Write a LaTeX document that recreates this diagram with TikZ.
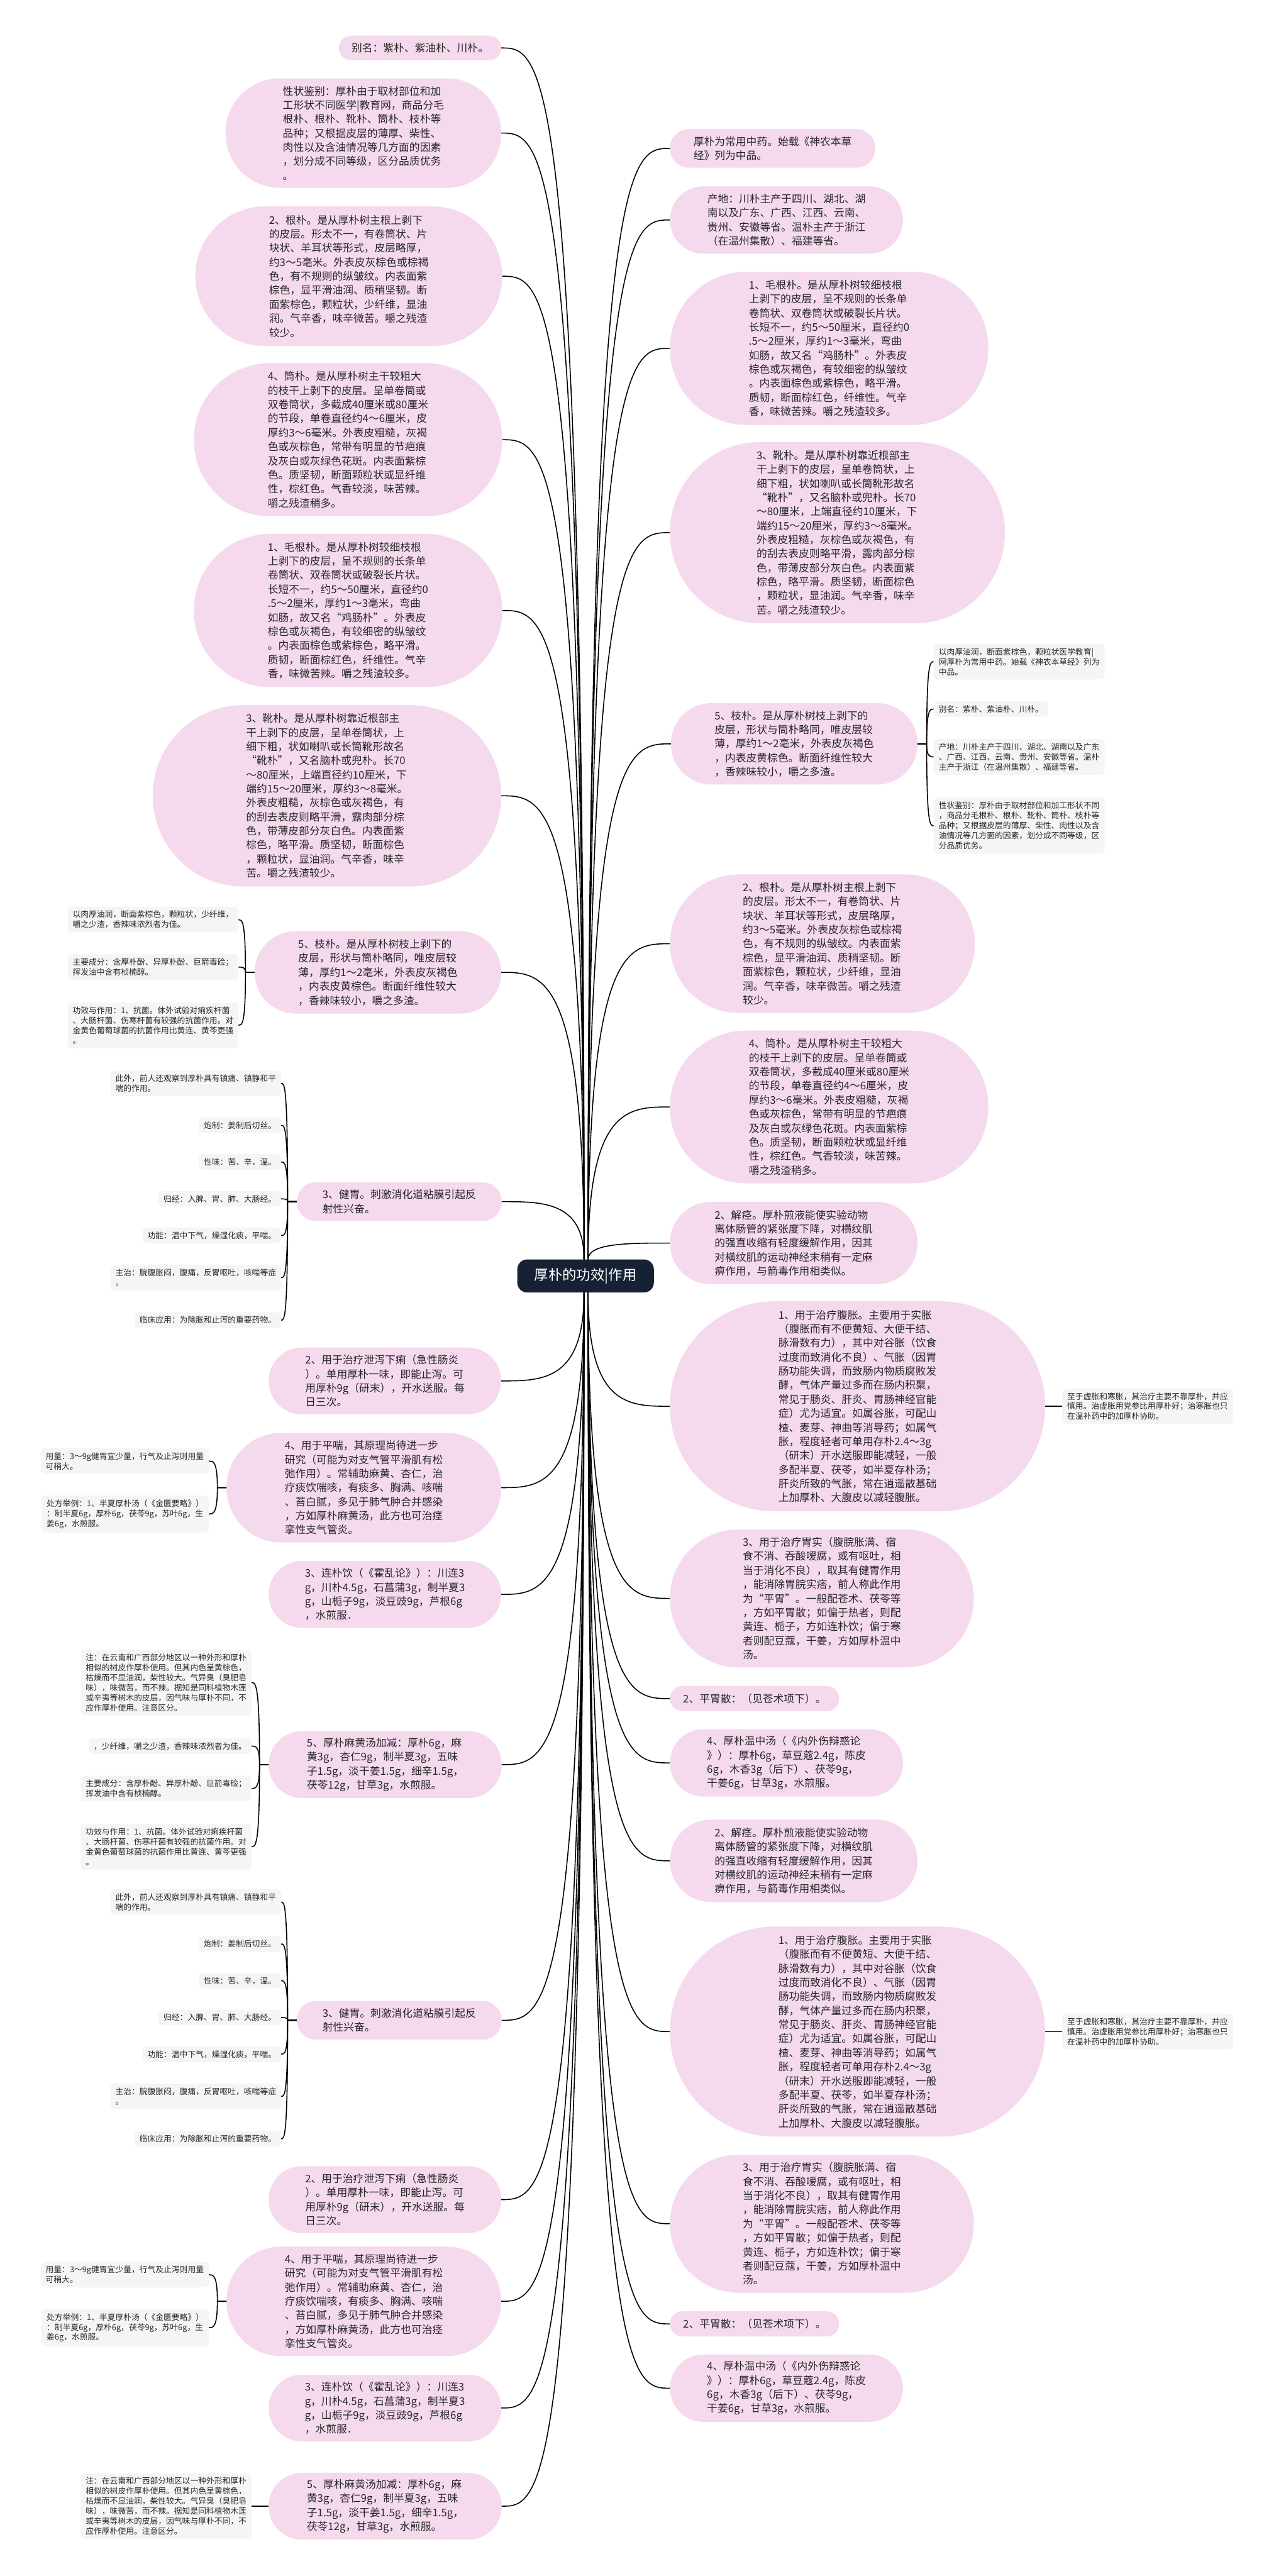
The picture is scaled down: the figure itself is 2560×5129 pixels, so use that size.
\documentclass[tikz,border=0pt]{standalone}
\usepackage{fontspec}
\setmainfont{Noto Sans CJK SC}
\usetikzlibrary{calc}
\definecolor{pinkfill}{RGB}{245,218,238}
\definecolor{leaffill}{RGB}{245,245,245}
\definecolor{txtc}{RGB}{38,38,38}
\definecolor{navy}{RGB}{22,34,51}
\newcommand\mainfs{\fontsize{21}{28}\selectfont}
\newcommand\leaffs{\fontsize{16}{20}\selectfont}
\newcommand\ctrfs{\fontsize{28}{32}\selectfont}
\tikzset{
  mainnode/.style 2 args={fill=pinkfill, minimum width=#1, minimum height=#2, rounded corners=#2/2-0.5, inner sep=0pt, align=left, font=\mainfs, text=txtc},
  leafnode/.style={fill=leaffill, rounded corners=8, inner xsep=10, inner ysep=8, align=left, font=\leaffs, text=txtc},
  conn/.style={draw=black, line width=2},
}
\newcommand\myLconn[2]{\draw[conn] let \p1=(#1), \p2=(#2.east) in (\p1) .. controls (\x1,\y2) and ($(\x1,\y2)!0.5!(\p2)$) .. (\p2);}
\newcommand\myRconn[2]{\draw[conn] let \p1=(#1), \p2=(#2.west) in (\p1) .. controls (\x1,\y2) and ($(\x1,\y2)!0.5!(\p2)$) .. (\p2);}
\newcommand\myLbr[2]{\draw[conn] let \p1=($(#1.west)+(-18,0)$), \p2=(#2.east) in (#1.west) -- (\p1) .. controls (\x1,\y2) and ($(\x1,\y2)!0.5!(\p2)$) .. (\p2);}
\newcommand\myRbr[2]{\draw[conn] let \p1=($(#1.east)+(18,0)$), \p2=(#2.west) in (#1.east) -- (\p1) .. controls (\x1,\y2) and ($(\x1,\y2)!0.5!(\p2)$) .. (\p2);}
% repeated texts
\newcommand\TxJW{3、健胃。刺激消化道粘膜引起反\\射性兴奋。}
\newcommand\TxJa{此外，前人还观察到厚朴具有镇痛、镇静和平\\喘的作用。}
\newcommand\TxJb{炮制：姜制后切丝。}
\newcommand\TxJc{性味：苦、辛，温。}
\newcommand\TxJd{归经：入脾、胃、肺、大肠经。}
\newcommand\TxJe{功能：温中下气，燥湿化痰，平喘。}
\newcommand\TxJf{主治：脘腹胀闷，腹痛，反胃呕吐，咳喘等症\\。}
\newcommand\TxJg{临床应用：为除胀和止泻的重要药物。}
\newcommand\TxXX{2、用于治疗泄泻下痢（急性肠炎\\）。单用厚朴一味，即能止泻。可\\用厚朴9g（研末），开水送服。每\\日三次。}
\newcommand\TxPC{4、用于平喘，其原理尚待进一步\\研究（可能为对支气管平滑肌有松\\弛作用）。常辅助麻黄、杏仁，治\\疗痰饮喘咳，有痰多、胸满、咳喘\\、苔白腻，多见于肺气肿合并感染\\，方如厚朴麻黄汤，此方也可治痉\\挛性支气管炎。}
\newcommand\TxPa{用量：3～9g健胃宜少量，行气及止泻则用量\\可稍大。}
\newcommand\TxPb{处方举例：1、半夏厚朴汤（《金匮要略》）\\：制半夏6g，厚朴6g，茯苓9g，苏叶6g，生\\姜6g，水煎服。}
\newcommand\TxLP{3、连朴饮（《霍乱论》）：川连3\\g，川朴4.5g，石菖蒲3g，制半夏3\\g，山栀子9g，淡豆豉9g，芦根6g\\，水煎服．}
\newcommand\TxMH{5、厚朴麻黄汤加减：厚朴6g，麻\\黄3g，杏仁9g，制半夏3g，五味\\子1.5g，淡干姜1.5g，细辛1.5g，\\茯苓12g，甘草3g，水煎服。}
\newcommand\TxMa{注：在云南和广西部分地区以一种外形和厚朴\\相似的树皮作厚朴使用。但其内色呈黄棕色，\\枯燥而不显油润，柴性较大。气异臭（臭肥皂\\味），味微苦，而不辣。据知是同科植物木莲\\或辛夷等树木的皮层，因气味与厚朴不同，不\\应作厚朴使用。注意区分。}
\newcommand\TxJJ{2、解痉。厚朴煎液能使实验动物\\离体肠管的紧张度下降，对横纹肌\\的强直收缩有轻度缓解作用，因其\\对横纹肌的运动神经末稍有一定麻\\痹作用，与箭毒作用相类似。}
\newcommand\TxFZ{1、用于治疗腹胀。主要用于实胀\\（腹胀而有不便黄短、大便干结、\\脉滑数有力），其中对谷胀（饮食\\过度而致消化不良）、气胀（因胃\\肠功能失调，而致肠内物质腐败发\\酵，气体产量过多而在肠内积聚，\\常见于肠炎、肝炎、胃肠神经官能\\症）尤为适宜。如属谷胀，可配山\\楂、麦芽、神曲等消导药；如属气\\胀，程度轻者可单用存朴2.4～3g\\（研末）开水送服即能减轻，一般\\多配半夏、茯苓，如半夏存朴汤；\\肝炎所致的气胀，常在逍遥散基础\\上加厚朴、大腹皮以减轻腹胀。}
\newcommand\TxFa{至于虚胀和寒胀，其治疗主要不靠厚朴，并应\\慎用。治虚胀用党参比用厚朴好；治寒胀也只\\在温补药中酌加厚朴协助。}
\newcommand\TxWS{3、用于治疗胃实（腹脘胀满、宿\\食不消、吞酸嗳腐，或有呕吐，相\\当于消化不良），取其有健胃作用\\，能消除胃脘实痞，前人称此作用\\为“平胃”。一般配苍术、茯苓等\\，方如平胃散；如偏于热者，则配\\黄连、栀子，方如连朴饮；偏于寒\\者则配豆蔻，干姜，方如厚朴温中\\汤。}
\newcommand\TxPW{2、平胃散：（见苍术项下）。}
\newcommand\TxWZ{4、厚朴温中汤（《内外伤辩惑论\\》）：厚朴6g，草豆蔻2.4g，陈皮\\6g，木香3g（后下）、茯苓9g，\\干姜6g，甘草3g，水煎服。}
\newcommand\TxMGP{1、毛根朴。是从厚朴树较细枝根\\上剥下的皮层，呈不规则的长条单\\卷筒状、双卷筒状或破裂长片状。\\长短不一，约5～50厘米，直径约0\\.5～2厘米，厚约1～3毫米，弯曲\\如肠，故又名“鸡肠朴”。外表皮\\棕色或灰褐色，有较细密的纵皱纹\\。内表面棕色或紫棕色，略平滑。\\质韧，断面棕红色，纤维性。气辛\\香，味微苦辣。嚼之残渣较多。}
\newcommand\TxXP{3、靴朴。是从厚朴树靠近根部主\\干上剥下的皮层，呈单卷筒状，上\\细下粗，状如喇叭或长筒靴形故名\\“靴朴”，又名脑朴或兜朴。长70\\～80厘米，上端直径约10厘米，下\\端约15～20厘米，厚约3～8毫米。\\外表皮粗糙，灰棕色或灰褐色，有\\的刮去表皮则略平滑，露肉部分棕\\色，带薄皮部分灰白色。内表面紫\\棕色，略平滑。质坚韧，断面棕色\\，颗粒状，显油润。气辛香，味辛\\苦。嚼之残渣较少。}
\newcommand\TxGP{2、根朴。是从厚朴树主根上剥下\\的皮层。形太不一，有卷筒状、片\\块状、羊耳状等形式，皮层略厚，\\约3～5毫米。外表皮灰棕色或棕褐\\色，有不规则的纵皱纹。内表面紫\\棕色，显平滑油润、质稍坚韧。断\\面紫棕色，颗粒状，少纤维，显油\\润。气辛香，味辛微苦。嚼之残渣\\较少。}
\newcommand\TxTP{4、筒朴。是从厚朴树主干较粗大\\的枝干上剥下的皮层。呈单卷筒或\\双卷筒状，多截成40厘米或80厘米\\的节段，单卷直径约4～6厘米，皮\\厚约3～6毫米。外表皮粗糙，灰褐\\色或灰棕色，常带有明显的节疤痕\\及灰白或灰绿色花斑。内表面紫棕\\色。质坚韧，断面颗粒状或显纤维\\性，棕红色。气香较淡，味苦辣。\\嚼之残渣稍多。}
\newcommand\TxZP{5、枝朴。是从厚朴树枝上剥下的\\皮层，形状与筒朴略同，唯皮层较\\薄，厚约1～2毫米，外表皮灰褐色\\，内表皮黄棕色。断面纤维性较大\\，香辣味较小，嚼之多渣。}
\begin{document}
\begin{tikzpicture}[x=1pt,y=1pt]
\fill[white] (0,0) rectangle (2560,-5129);
\useasboundingbox (0,0) rectangle (2560,-5129);
% ---------------- center
\node[fill=navy, text=white, rounded corners=20, minimum width=272, minimum height=66, inner sep=0pt, font=\ctrfs] (ctr) at (1166,-2540.5) {厚朴的功效|作用};
\coordinate (SLt) at ($(ctr.north)+(-3,0)$);
\coordinate (SRt) at ($(ctr.north)+(5,0)$);
\coordinate (SLb) at ($(ctr.south)+(-3,0)$);
\coordinate (SRb) at ($(ctr.south)+(5,0)$);
% ---------------- left main nodes
\node[mainnode={323}{49}] (Lbm) at (836.5,-95.5) {别名：紫朴、紫油朴、川朴。};
\node[mainnode={549}{218}] (Lxz) at (723.5,-265) {性状鉴别：厚朴由于取材部位和加\\工形状不同医学|教育网，商品分毛\\根朴、根朴、靴朴、筒朴、枝朴等\\品种；又根据皮层的薄厚、柴性、\\肉性以及含油情况等几方面的因素\\，划分成不同等级，区分品质优务\\。};
\node[mainnode={611}{278}] (Lgp) at (694.5,-550) {\TxGP};
\node[mainnode={614}{305}] (Ltp) at (693,-875.5) {\TxTP};
\node[mainnode={614}{305}] (Lmg) at (693,-1215.5) {\TxMGP};
\node[mainnode={694}{361}] (Lxp) at (651,-1584.5) {\TxXP};
\node[mainnode={491}{164}] (Lzp) at (752.5,-1936) {\TxZP};
\node[leafnode, anchor=east] (Lz1) at (475,-1831) {以肉厚油润，断面紫棕色，颗粒状，少纤维，\\嚼之少渣，香辣味浓烈者为佳。};
\node[leafnode, anchor=east] (Lz2) at (475,-1925.5) {主要成分：含厚朴酚、异厚朴酚、巨箭毒硷；\\挥发油中含有桢楠醇。};
\node[leafnode, anchor=east] (Lz3) at (475,-2041.5) {功效与作用：1、抗菌。体外试验对痢疾杆菌\\、大肠杆菌、伤寒杆菌有较强的抗菌作用。对\\金黄色葡萄球菌的抗菌作用比黄连、黄芩更强\\。};
\node[mainnode={408}{77}] (Ljw) at (795,-2392.5) {\TxJW};
\node[leafnode, anchor=east] (Lj1) at (560,-2157) {\TxJa};
\node[leafnode, anchor=east] (Lj2) at (560,-2240.5) {\TxJb};
\node[leafnode, anchor=east] (Lj3) at (560,-2313.5) {\TxJc};
\node[leafnode, anchor=east] (Lj4) at (560,-2387) {\TxJd};
\node[leafnode, anchor=east] (Lj5) at (560,-2460) {\TxJe};
\node[leafnode, anchor=east] (Lj6) at (560,-2544) {\TxJf};
\node[leafnode, anchor=east] (Lj7) at (560,-2628.5) {\TxJg};
\node[mainnode={463}{133}] (Lxx) at (766.5,-2749.5) {\TxXX};
\node[mainnode={547}{218}] (Lpc) at (724.5,-2962) {\TxPC};
\node[leafnode, anchor=east] (Lp1) at (416,-2909) {\TxPa};
\node[leafnode, anchor=east] (Lp2) at (416,-3014.5) {\TxPb};
\node[mainnode={463}{133}] (Llp) at (766.5,-3174.5) {\TxLP};
\node[mainnode={464}{133}] (Lmh) at (767,-3513.5) {\TxMH};
\node[leafnode, anchor=east] (Lm1) at (501,-3350) {\TxMa};
\node[leafnode, anchor=east] (Lm2) at (501,-3476.5) {，少纤维，嚼之少渣，香辣味浓烈者为佳。};
\node[leafnode, anchor=east] (Lm3) at (501,-3561) {主要成分：含厚朴酚、异厚朴酚、巨箭毒硷；\\挥发油中含有桢楠醇。};
\node[leafnode, anchor=east] (Lm4) at (501,-3677) {功效与作用：1、抗菌。体外试验对痢疾杆菌\\、大肠杆菌、伤寒杆菌有较强的抗菌作用。对\\金黄色葡萄球菌的抗菌作用比黄连、黄芩更强\\。};
% lower left copy
\node[mainnode={408}{77}] (LjwB) at (795,-4022.5) {\TxJW};
\node[leafnode, anchor=east] (LjB1) at (560,-3787) {\TxJa};
\node[leafnode, anchor=east] (LjB2) at (560,-3870.5) {\TxJb};
\node[leafnode, anchor=east] (LjB3) at (560,-3943.5) {\TxJc};
\node[leafnode, anchor=east] (LjB4) at (560,-4017) {\TxJd};
\node[leafnode, anchor=east] (LjB5) at (560,-4090) {\TxJe};
\node[leafnode, anchor=east] (LjB6) at (560,-4174) {\TxJf};
\node[leafnode, anchor=east] (LjB7) at (560,-4258.5) {\TxJg};
\node[mainnode={463}{133}] (LxxB) at (766.5,-4379.5) {\TxXX};
\node[mainnode={547}{218}] (LpcB) at (724.5,-4582) {\TxPC};
\node[leafnode, anchor=east] (LpB1) at (416,-4529) {\TxPa};
\node[leafnode, anchor=east] (LpB2) at (416,-4634.5) {\TxPb};
\node[mainnode={463}{133}] (LlpB) at (766.5,-4794.5) {\TxLP};
\node[mainnode={464}{133}] (LmhB) at (767,-4990) {\TxMH};
\node[leafnode, anchor=east] (LmB1) at (501,-4990) {\TxMa};
% ---------------- right main nodes
\node[mainnode={409}{77}] (Rhp) at (1538.5,-295.5) {厚朴为常用中药。始载《神农本草\\经》列为中品。};
\node[mainnode={464}{134}] (Rcd) at (1566,-438) {产地：川朴主产于四川、湖北、湖\\南以及广东、广西、江西、云南、\\贵州、安徽等省。温朴主产于浙江\\（在温州集散）、福建等省。};
\node[mainnode={634}{305}] (Rmg) at (1651,-693.5) {\TxMGP};
\node[mainnode={667}{361}] (Rxp) at (1667.5,-1060.5) {\TxXP};
\node[mainnode={491}{162}] (Rzp) at (1581.5,-1481) {\TxZP};
\node[leafnode, anchor=west] (Rz1) at (1859,-1317.5) {以肉厚油润，断面紫棕色，颗粒状医学教育|\\网厚朴为常用中药。始载《神农本草经》列为\\中品。};
\node[leafnode, anchor=west] (Rz2) at (1859,-1411.5) {别名：紫朴、紫油朴、川朴。};
\node[leafnode, anchor=west] (Rz3) at (1859,-1507) {产地：川朴主产于四川、湖北、湖南以及广东\\、广西、江西、云南、贵州、安徽等省。温朴\\主产于浙江（在温州集散）、福建等省。};
\node[leafnode, anchor=west] (Rz4) at (1859,-1644) {性状鉴别：厚朴由于取材部位和加工形状不同\\，商品分毛根朴、根朴、靴朴、筒朴、枝朴等\\品种；又根据皮层的薄厚、柴性、肉性以及含\\油情况等几方面的因素，划分成不同等级，区\\分品质优务。};
\node[mainnode={607}{276}] (Rgp) at (1637.5,-1879) {\TxGP};
\node[mainnode={634}{304}] (Rtp) at (1651,-2204) {\TxTP};
\node[mainnode={493}{164}] (Rjj) at (1580.5,-2475) {\TxJJ};
\node[mainnode={747}{418}] (Rfz) at (1707.5,-2800) {\TxFZ};
\node[leafnode, anchor=west] (Rf1) at (2115,-2800) {\TxFa};
\node[mainnode={605}{275}] (Rws) at (1636.5,-3182.5) {\TxWS};
\node[mainnode={337}{50}] (Rpw) at (1502.5,-3382) {\TxPW};
\node[mainnode={464}{134}] (Rwz) at (1566,-3510) {\TxWZ};
% lower right copy
\node[mainnode={493}{164}] (RjjB) at (1580.5,-3705) {\TxJJ};
\node[mainnode={747}{418}] (RfzB) at (1707.5,-4045) {\TxFZ};
\node[leafnode, anchor=west] (RfB1) at (2115,-4045) {\TxFa};
\node[mainnode={605}{275}] (RwsB) at (1636.5,-4427.5) {\TxWS};
\node[mainnode={337}{50}] (RpwB) at (1502.5,-4627) {\TxPW};
\node[mainnode={464}{134}] (RwzB) at (1566,-4755) {\TxWZ};
% ---------------- connectors
\foreach \q in {Lbm,Lxz,Lgp,Ltp,Lmg,Lxp,Lzp,Ljw}{\myLconn{SLt}{\q}}
\foreach \q in {Lxx,Lpc,Llp,Lmh,LjwB,LxxB,LpcB,LlpB,LmhB}{\myLconn{SLb}{\q}}
\foreach \q in {Rhp,Rcd,Rmg,Rxp,Rzp,Rgp,Rtp,Rjj}{\myRconn{SRt}{\q}}
\foreach \q in {Rfz,Rws,Rpw,Rwz,RjjB,RfzB,RwsB,RpwB,RwzB}{\myRconn{SRb}{\q}}
\foreach \q in {Lz1,Lz2,Lz3}{\myLbr{Lzp}{\q}}
\foreach \q in {Lj1,Lj2,Lj3,Lj4,Lj5,Lj6,Lj7}{\myLbr{Ljw}{\q}}
\foreach \q in {LjB1,LjB2,LjB3,LjB4,LjB5,LjB6,LjB7}{\myLbr{LjwB}{\q}}
\foreach \q in {Lp1,Lp2}{\myLbr{Lpc}{\q}}
\foreach \q in {LpB1,LpB2}{\myLbr{LpcB}{\q}}
\foreach \q in {Lm1,Lm2,Lm3,Lm4}{\myLbr{Lmh}{\q}}
\myLbr{LmhB}{LmB1}
\foreach \q in {Rz1,Rz2,Rz3,Rz4}{\myRbr{Rzp}{\q}}
\myRbr{Rfz}{Rf1}
\myRbr{RfzB}{RfB1}
\end{tikzpicture}
\end{document}
